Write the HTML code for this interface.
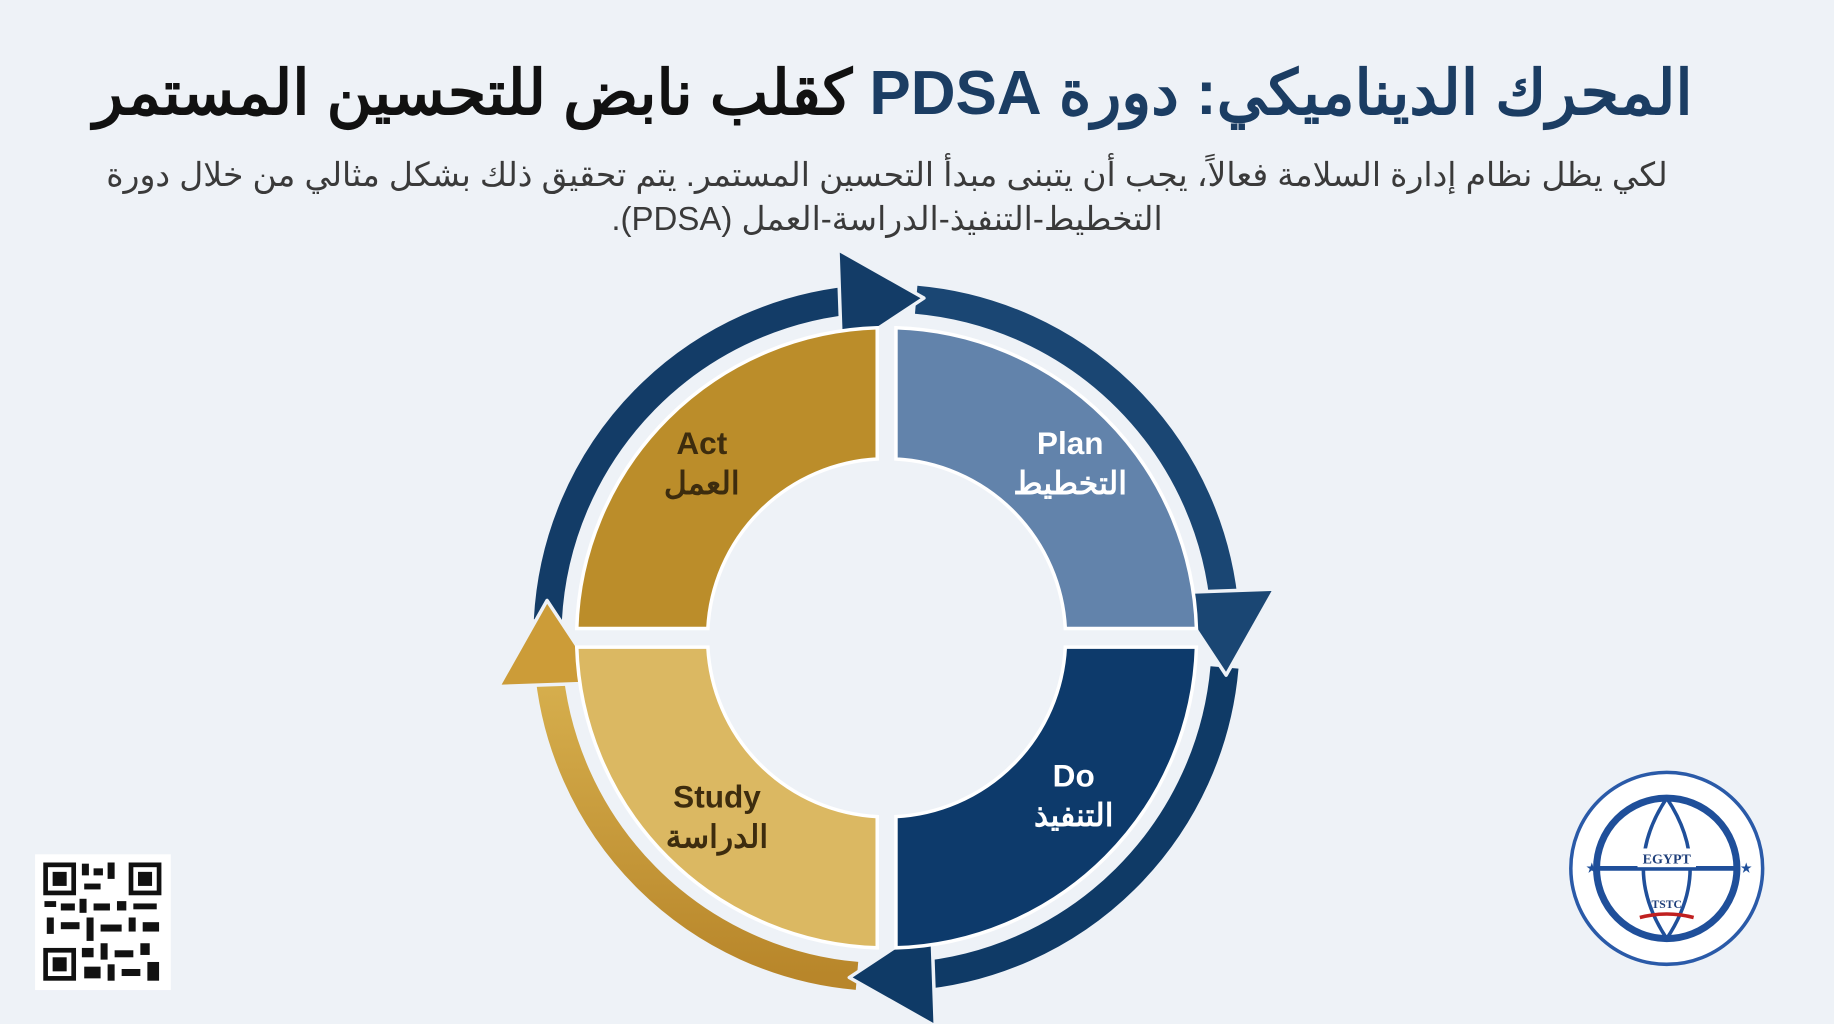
<!DOCTYPE html>
<html><head><meta charset="utf-8"><style>
html,body{margin:0;padding:0;}
body{width:1834px;height:1024px;background:#eef2f7;position:relative;overflow:hidden;font-family:"Liberation Sans","Noto Sans CJK SC",sans-serif;}
svg{position:absolute;left:0;top:0;}
.t{position:absolute;white-space:nowrap;text-align:center;direction:rtl;}
</style></head><body>
<svg width="1834" height="1024" viewBox="0 0 1568 875" preserveAspectRatio="none">
<defs>
<linearGradient id="g4" x1="0" y1="1" x2="0" y2="0"><stop offset="0" stop-color="#b8862a"/><stop offset="1" stop-color="#d8b14f"/></linearGradient>
</defs>
<g fill="none" stroke-width="24">
<path d="M468.4,529.8 A290,290 0 0 1 737.8,255.7" stroke="#133c67"/>
<path d="M783.3,256.1 A290,290 0 0 1 1047.1,522.2" stroke="#1a4673"/>
<path d="M1046.9,570.3 A290,290 0 0 1 780.8,834.1" stroke="#0f3a66"/>
<path d="M732.7,833.9 A290,290 0 0 1 468.9,567.8" stroke="url(#g4)"/>
</g>
<g stroke="#eef2f7" stroke-width="3" stroke-linejoin="round">
<polygon points="728,212 728,300 800,256" fill="#133c67" transform="rotate(-2 758 545)"/>
<polygon points="728,212 728,300 800,256" fill="#1a4673" transform="rotate(88 758 545)"/>
<polygon points="728,212 728,300 800,256" fill="#0f3a66" transform="rotate(178 758 545)"/>
<polygon points="728,212 728,300 800,256" fill="#cc9c38" transform="rotate(268 758 545)"/>
</g>
<g stroke="#ffffff" stroke-width="3">
<path d="M766,280.1 A265,265 0 0 1 1022.9,537 L910.8,537 A153,153 0 0 0 766,392.2 Z" fill="#6283ab"/>
<path d="M1022.9,553 A265,265 0 0 1 766,809.9 L766,697.8 A153,153 0 0 0 910.8,553 Z" fill="#0d3a6b"/>
<path d="M750,809.9 A265,265 0 0 1 493.1,553 L605.2,553 A153,153 0 0 0 750,697.8 Z" fill="#dbb862"/>
<path d="M493.1,537 A265,265 0 0 1 750,280.1 L750,392.2 A153,153 0 0 0 605.2,537 Z" fill="#bb8d2a"/>
</g>
<g font-family="Liberation Sans, Noto Sans CJK SC, sans-serif" font-weight="bold" font-size="27" text-anchor="middle">
<text x="915" y="388" fill="#fff">Plan</text>
<text x="915" y="422" fill="#fff">التخطيط</text>
<text x="918" y="672" fill="#fff">Do</text>
<text x="918" y="706" fill="#fff">التنفيذ</text>
<text x="600" y="388" fill="#3d2c0e">Act</text>
<text x="600" y="422" fill="#3d2c0e">العمل</text>
<text x="613" y="690" fill="#3d2c0e">Study</text>
<text x="613" y="724" fill="#3d2c0e">الدراسة</text>
</g>
<rect x="30" y="730" width="116" height="116" fill="#fff"/>
<g fill="#111">
<rect x="37" y="737" width="28" height="28"/><rect x="41" y="741" width="20" height="20" fill="#fff"/><rect x="45" y="745" width="12" height="12"/>
<rect x="110" y="737" width="28" height="28"/><rect x="114" y="741" width="20" height="20" fill="#fff"/><rect x="118" y="745" width="12" height="12"/>
<rect x="37" y="810" width="28" height="28"/><rect x="41" y="814" width="20" height="20" fill="#fff"/><rect x="45" y="818" width="12" height="12"/>
<rect x="70" y="738" width="6" height="10"/><rect x="80" y="742" width="8" height="6"/><rect x="92" y="737" width="6" height="14"/><rect x="72" y="755" width="14" height="5"/>
<rect x="38" y="770" width="10" height="5"/><rect x="52" y="772" width="12" height="6"/><rect x="68" y="768" width="6" height="12"/><rect x="80" y="772" width="14" height="6"/><rect x="100" y="770" width="8" height="8"/><rect x="114" y="772" width="20" height="5"/>
<rect x="40" y="784" width="6" height="14"/><rect x="52" y="788" width="16" height="6"/><rect x="74" y="784" width="6" height="20"/><rect x="86" y="790" width="18" height="6"/><rect x="110" y="784" width="6" height="12"/><rect x="122" y="788" width="14" height="8"/>
<rect x="70" y="810" width="10" height="8"/><rect x="86" y="806" width="6" height="14"/><rect x="98" y="812" width="16" height="6"/><rect x="120" y="806" width="8" height="10"/>
<rect x="72" y="826" width="14" height="10"/><rect x="92" y="824" width="6" height="14"/><rect x="104" y="828" width="16" height="6"/><rect x="126" y="822" width="10" height="16"/>
</g>
<circle cx="1425" cy="742" r="82" fill="#fff" stroke="#2a5aa8" stroke-width="3"/>
<circle cx="1425" cy="742" r="60" fill="none" stroke="#1f4f9a" stroke-width="6"/>
<line x1="1365" y1="742" x2="1485" y2="742" stroke="#1f4f9a" stroke-width="4"/>
<path d="M1425,682 Q1385,742 1425,802 M1425,682 Q1465,742 1425,802" fill="none" stroke="#1f4f9a" stroke-width="3"/>
<rect x="1400" y="725" width="50" height="16" fill="#fff"/>
<text x="1425" y="738" font-size="12" font-family="Liberation Serif, serif" font-weight="bold" text-anchor="middle" fill="#1f3f7a">EGYPT</text>
<text x="1425" y="776" font-size="10" font-family="Liberation Serif, serif" font-weight="bold" text-anchor="middle" fill="#1f3f7a">TSTC</text>
<path d="M1402,784 q23,-6 46,0" stroke="#c02020" stroke-width="3" fill="none"/>
<text x="1356" y="745" font-size="10" fill="#1f4f9a">★</text><text x="1488" y="745" font-size="10" fill="#1f4f9a">★</text>
</svg>
<div class="t" style="left:0;top:56px;width:1786px;font-size:62px;font-weight:bold;font-family:'Liberation Sans','Noto Sans CJK SC',sans-serif;"><span style="color:#1b3d63">المحرك الديناميكي: دورة PDSA</span> <span style="color:#111">كقلب نابض للتحسين المستمر</span></div>
<div class="t" style="left:0;top:153px;width:1774px;font-size:33px;color:#3a3a3a;line-height:44px;">لكي يظل نظام إدارة السلامة فعالاً، يجب أن يتبنى مبدأ التحسين المستمر. يتم تحقيق ذلك بشكل مثالي من خلال دورة<br>التخطيط-التنفيذ-الدراسة-العمل (PDSA).</div>
</body></html>
